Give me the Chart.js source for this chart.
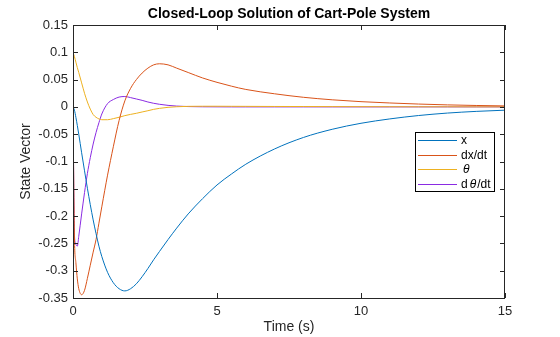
<!DOCTYPE html>
<html>
<head>
<meta charset="utf-8">
<script src="https://cdn.jsdelivr.net/npm/chart.js@4/dist/chart.umd.min.js"></script>
<style>
  html, body { margin: 0; padding: 0; background: #ffffff; }
  canvas { display: block; }
</style>
</head>
<body>
<canvas id="c" width="560" height="337"></canvas>
<script>
// Simulation time (s)
const time = [0, 0.05, 0.1, 0.15, 0.2, 0.3, 0.4, 0.5, 0.6, 0.7, 0.8, 0.9, 1.0,
  1.2, 1.4, 1.6, 1.8, 2.0, 2.2, 2.4, 2.6, 2.8, 3.0, 3.3, 3.6, 4.0, 4.5,
  5, 5.5, 6, 7, 8, 9, 10, 11, 12, 13, 14, 15];

// Cart position x
const cartPosition = [0, -0.006, -0.019, -0.034, -0.050, -0.084, -0.117, -0.149, -0.179, -0.207, -0.232, -0.255, -0.274,
  -0.303, -0.322, -0.333, -0.337, -0.333, -0.324, -0.311, -0.296, -0.280, -0.265, -0.243, -0.222, -0.196, -0.168,
  -0.143, -0.123, -0.105, -0.077, -0.056, -0.041, -0.030, -0.022, -0.0158, -0.0113, -0.0082, -0.006];

// Cart velocity dx/dt
const cartVelocity = [0, -0.240, -0.285, -0.315, -0.333, -0.344, -0.336, -0.314, -0.290, -0.266, -0.243, -0.213, -0.183,
  -0.125, -0.073, -0.025, 0.011, 0.034, 0.050, 0.062, 0.071, 0.077, 0.079, 0.077, 0.071, 0.063, 0.053,
  0.045, 0.038, 0.032, 0.024, 0.0176, 0.013, 0.0096, 0.0072, 0.0052, 0.0037, 0.0026, 0.0018];

// Pole angle theta
const poleAngle = [0.1, 0.092, 0.082, 0.072, 0.063, 0.044, 0.025, 0.009, -0.004, -0.014, -0.019, -0.022, -0.0235,
  -0.0235, -0.0215, -0.019, -0.016, -0.0137, -0.0117, -0.0093, -0.007, -0.0045, -0.0027, -0.0008, 0.0003, 0.001, 0.0012,
  0.0012, 0.0011, 0.001, 0.0008, 0.0007, 0.0005, 0.0004, 0.0003, 0.0002, 0.0002, 0.0001, 0.0001];

// Pole angular rate dtheta/dt
const poleRate = [0, -0.235, -0.252, -0.255, -0.237, -0.196, -0.157, -0.122, -0.093, -0.068, -0.047, -0.029, -0.013,
  0.006, 0.0135, 0.018, 0.019, 0.017, 0.0145, 0.012, 0.009, 0.0066, 0.0048, 0.0028, 0.0015, 0.0006, 0.0002,
  0.0001, 0, 0, 0, 0, 0, 0, 0, 0, 0, 0, 0];

const seriesLabels = ['x', 'dx/dt', 'θ', 'dθ/dt'];
const seriesColors = ['#0072BD', '#D95319', '#EDB120', '#8A2BE2'];

const xTickValues = [0, 5, 10, 15];
const xTickLabels = ['0', '5', '10', '15'];
const yTickValues = [-0.35, -0.3, -0.25, -0.2, -0.15, -0.1, -0.05, 0, 0.05, 0.1, 0.15];
const yTickLabels = ['-0.35', '-0.3', '-0.25', '-0.2', '-0.15', '-0.1', '-0.05', '0', '0.05', '0.1', '0.15'];

const FONT = "'Liberation Sans', Arial, Helvetica, sans-serif";
const AXIS_COLOR = '#262626';

const toPoints = (vals) => vals.map((v, i) => ({ x: time[i], y: v }));
const seriesValues = [cartPosition, cartVelocity, poleAngle, poleRate];

const datasets = seriesValues.map((vals, i) => ({
  label: seriesLabels[i],
  data: toPoints(vals),
  borderColor: seriesColors[i],
  backgroundColor: seriesColors[i],
  borderWidth: 1,
  pointRadius: 0,
  fill: false,
  cubicInterpolationMode: 'monotone'
}));

// Box around the axes with inward tick marks on all four sides
const axesBox = {
  id: 'axesBox',
  afterDatasetsDraw(chart) {
    const { ctx, chartArea: { left, right, top, bottom }, scales: { x, y } } = chart;
    const len = 5;
    ctx.save();
    ctx.strokeStyle = AXIS_COLOR;
    ctx.lineWidth = 1;
    ctx.beginPath();
    yTickValues.forEach(v => {
      const py = Math.round(y.getPixelForValue(v)) + 0.5;
      ctx.moveTo(left, py); ctx.lineTo(left + len, py);
      ctx.moveTo(right, py); ctx.lineTo(right - len, py);
    });
    xTickValues.forEach(v => {
      const px = Math.round(x.getPixelForValue(v)) + 0.5;
      ctx.moveTo(px, bottom); ctx.lineTo(px, bottom - len);
      ctx.moveTo(px, top); ctx.lineTo(px, top + len);
    });
    ctx.stroke();
    ctx.strokeRect(Math.round(left) + 0.5, Math.round(top) + 0.5,
      Math.round(right - left) - 1, Math.round(bottom - top));
    ctx.restore();
  }
};

// Legend box inside the axes, with an italic theta
const boxedLegend = {
  id: 'boxedLegend',
  afterDraw(chart) {
    const { ctx, chartArea: { top, right } } = chart;
    const boxRight = right - 10;
    const boxLeft = boxRight - 80;
    const boxTop = top + 107;
    const rowH = 14.5;
    const boxH = 60;
    ctx.save();
    ctx.fillStyle = '#ffffff';
    ctx.fillRect(boxLeft, boxTop, boxRight - boxLeft, boxH);
    ctx.strokeStyle = '#000000';
    ctx.lineWidth = 1;
    ctx.strokeRect(boxLeft + 0.5, boxTop + 0.5, boxRight - boxLeft - 1, boxH - 1);
    ctx.textBaseline = 'middle';
    ctx.textAlign = 'left';
    const normal = `12px ${FONT}`;
    const italic = `italic 12px ${FONT}`;
    chart.data.datasets.forEach((ds, i) => {
      const cy = Math.round(boxTop + 8 + i * rowH) + 0.5;
      ctx.strokeStyle = ds.borderColor;
      ctx.beginPath();
      ctx.moveTo(boxLeft + 3, cy);
      ctx.lineTo(boxLeft + 42, cy);
      ctx.stroke();
      let tx = boxLeft + 46;
      ctx.fillStyle = '#000000';
      for (const ch of ds.label) {
        if (ch === 'θ') {
          ctx.font = italic;
          tx += 2;
          ctx.fillText(ch, tx, cy);
          tx += ctx.measureText(ch).width + 1;
        } else {
          ctx.font = normal;
          ctx.fillText(ch, tx, cy);
          tx += ctx.measureText(ch).width;
        }
      }
    });
    ctx.restore();
  }
};

new Chart(document.getElementById('c'), {
  type: 'line',
  data: { datasets },
  options: {
    responsive: false,
    animation: false,
    devicePixelRatio: 1,
    layout: { padding: { left: 0, right: 55, top: 0, bottom: 0 } },
    plugins: {
      legend: { display: false },
      tooltip: { enabled: false },
      title: {
        display: true,
        fullSize: false,
        text: 'Closed-Loop Solution of Cart-Pole System',
        color: '#000000',
        font: { family: FONT, size: 14, weight: 'bold' },
        padding: { top: 5.6, bottom: 2.6 }
      }
    },
    scales: {
      x: {
        type: 'linear',
        min: 0,
        max: 15,
        afterBuildTicks: (s) => { s.ticks = xTickValues.map(v => ({ value: v })); },
        afterFit: (s) => { s.height = 39; },
        grid: { display: false, drawTicks: false },
        border: { display: false },
        ticks: {
          autoSkip: false,
          maxRotation: 0,
          padding: 6,
          color: AXIS_COLOR,
          font: { family: FONT, size: 13 },
          callback: (v) => xTickLabels[xTickValues.indexOf(v)]
        },
        title: {
          display: true,
          text: 'Time (s)',
          color: AXIS_COLOR,
          font: { family: FONT, size: 14 },
          padding: { top: 0, bottom: 1.6 }
        }
      },
      y: {
        type: 'linear',
        min: -0.35,
        max: 0.15,
        afterBuildTicks: (s) => { s.ticks = yTickValues.map(v => ({ value: v })); },
        afterFit: (s) => { s.width = 73; },
        grid: { display: false, drawTicks: false },
        border: { display: false },
        ticks: {
          autoSkip: false,
          padding: 5,
          color: AXIS_COLOR,
          font: { family: FONT, size: 13 },
          callback: (v) => yTickLabels[yTickValues.indexOf(v)]
        },
        title: {
          display: true,
          text: 'State Vector',
          color: AXIS_COLOR,
          font: { family: FONT, size: 14 },
          padding: { top: 17.6, bottom: 0 }
        }
      }
    }
  },
  plugins: [axesBox, boxedLegend]
});
</script>
</body>
</html>
